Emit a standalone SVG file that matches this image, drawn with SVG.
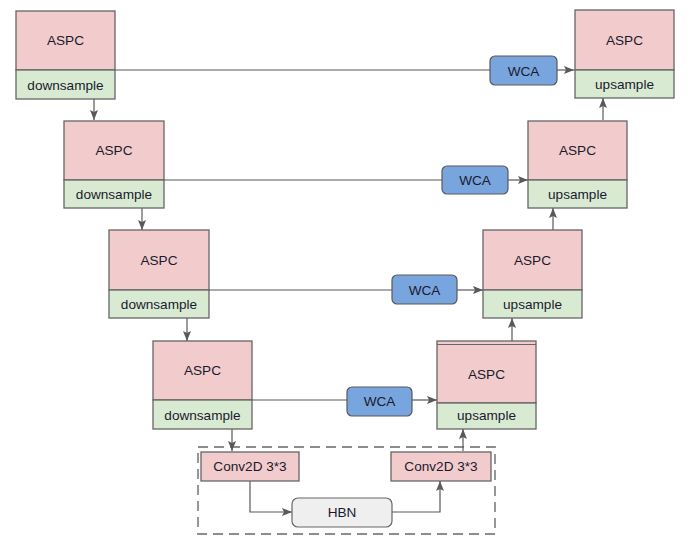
<svg xmlns="http://www.w3.org/2000/svg" width="700" height="550" viewBox="0 0 700 550">
<defs>
<marker id="ah" viewBox="0 0 10 10" refX="10" refY="5" markerWidth="10" markerHeight="10" markerUnits="userSpaceOnUse" orient="auto">
<path d="M0,1 L10,5 L0,9 L2,5 Z" fill="#595959"/>
</marker>
</defs>
<style>
.pk{fill:#f2cccc;stroke:#666;stroke-width:1.3}
.gr{fill:#d9ead3;stroke:#666;stroke-width:1.3}
.wca{fill:#78a5de;stroke:#595959;stroke-width:1.2}
.hbn{fill:#efefef;stroke:#666;stroke-width:1.2}
.t{font-family:"Liberation Sans",Arial,sans-serif;font-size:13.6px;fill:#1a1a2e;text-anchor:middle;dominant-baseline:central}
.c{fill:none;stroke:#595959;stroke-width:1.2}
.dash{fill:none;stroke:#8c8c8c;stroke-width:1.8;stroke-dasharray:10,6}
</style>
<rect class="dash" x="198" y="447" width="297" height="87"/>
<g id="connectors">
<path class="c" d="M94,99 V120" marker-end="url(#ah)"/>
<path class="c" d="M142,208 V230" marker-end="url(#ah)"/>
<path class="c" d="M187,318 V341" marker-end="url(#ah)"/>
<path class="c" d="M232,429 V451" marker-end="url(#ah)"/>
<path class="c" d="M115,70 H490"/>
<path class="c" d="M557,70 H574" marker-end="url(#ah)"/>
<path class="c" d="M164,180 H442"/>
<path class="c" d="M508,180 H528" marker-end="url(#ah)"/>
<path class="c" d="M209,290 H392"/>
<path class="c" d="M457,290 H483" marker-end="url(#ah)"/>
<path class="c" d="M252,400 H347"/>
<path class="c" d="M412,400 H437" marker-end="url(#ah)"/>
<path class="c" d="M603,120 V98" marker-end="url(#ah)"/>
<path class="c" d="M553,230 V208" marker-end="url(#ah)"/>
<path class="c" d="M512,341 V318" marker-end="url(#ah)"/>
<path class="c" d="M463,451 V429" marker-end="url(#ah)"/>
<path class="c" d="M250,481 V512 H292" marker-end="url(#ah)"/>
<path class="c" d="M392,512 H440 V481" marker-end="url(#ah)"/>
</g>
<g id="down1"><rect class="pk" x="16" y="11" width="99" height="59"/><rect class="gr" x="16" y="70" width="99" height="29"/><text class="t" x="65.5" y="40">ASPC</text><text class="t" x="65.5" y="85">downsample</text></g>
<g id="down2"><rect class="pk" x="64" y="121" width="100" height="59"/><rect class="gr" x="64" y="180" width="100" height="28"/><text class="t" x="114" y="150">ASPC</text><text class="t" x="114" y="194">downsample</text></g>
<g id="down3"><rect class="pk" x="109" y="230" width="100" height="60"/><rect class="gr" x="109" y="290" width="100" height="28"/><text class="t" x="159" y="260">ASPC</text><text class="t" x="159" y="304">downsample</text></g>
<g id="down4"><rect class="pk" x="153" y="341" width="99" height="59"/><rect class="gr" x="153" y="400" width="99" height="29"/><text class="t" x="202.5" y="370">ASPC</text><text class="t" x="202.5" y="415">downsample</text></g>
<g id="up1"><rect class="pk" x="575" y="10" width="99" height="60"/><rect class="gr" x="575" y="70" width="99" height="28"/><text class="t" x="624.5" y="40">ASPC</text><text class="t" x="624.5" y="84">upsample</text></g>
<g id="up2"><rect class="pk" x="528" y="121" width="99" height="59"/><rect class="gr" x="528" y="180" width="99" height="28"/><text class="t" x="577.5" y="150">ASPC</text><text class="t" x="577.5" y="194">upsample</text></g>
<g id="up3"><rect class="pk" x="483" y="230" width="99" height="60"/><rect class="gr" x="483" y="290" width="99" height="28"/><text class="t" x="532.5" y="260">ASPC</text><text class="t" x="532.5" y="304">upsample</text></g>
<g id="up4"><rect class="pk" x="437" y="341" width="99" height="62"/><line x1="437" y1="344.5" x2="536" y2="344.5" stroke="#666" stroke-width="1.2"/><rect class="gr" x="437" y="403" width="99" height="26"/><text class="t" x="486.5" y="374">ASPC</text><text class="t" x="486.5" y="415">upsample</text></g>
<g id="wca1"><rect class="wca" x="490" y="56" width="67" height="29" rx="5"/><text class="t" x="523.5" y="71">WCA</text></g>
<g id="wca2"><rect class="wca" x="442" y="166" width="66" height="28" rx="5"/><text class="t" x="475" y="180.5">WCA</text></g>
<g id="wca3"><rect class="wca" x="392" y="275" width="65" height="29" rx="5"/><text class="t" x="424.5" y="290">WCA</text></g>
<g id="wca4"><rect class="wca" x="347" y="387" width="65" height="29" rx="5"/><text class="t" x="379.5" y="401.5">WCA</text></g>
<g id="conv1"><rect class="pk" x="201" y="452" width="98" height="29"/><text class="t" x="250" y="466.5">Conv2D 3*3</text></g>
<g id="conv2"><rect class="pk" x="391" y="452" width="100" height="29"/><text class="t" x="441" y="466.5">Conv2D 3*3</text></g>
<g id="hbn"><rect class="hbn" x="292" y="498" width="100" height="29" rx="6"/><text class="t" x="342" y="512.5">HBN</text></g>
</svg>
